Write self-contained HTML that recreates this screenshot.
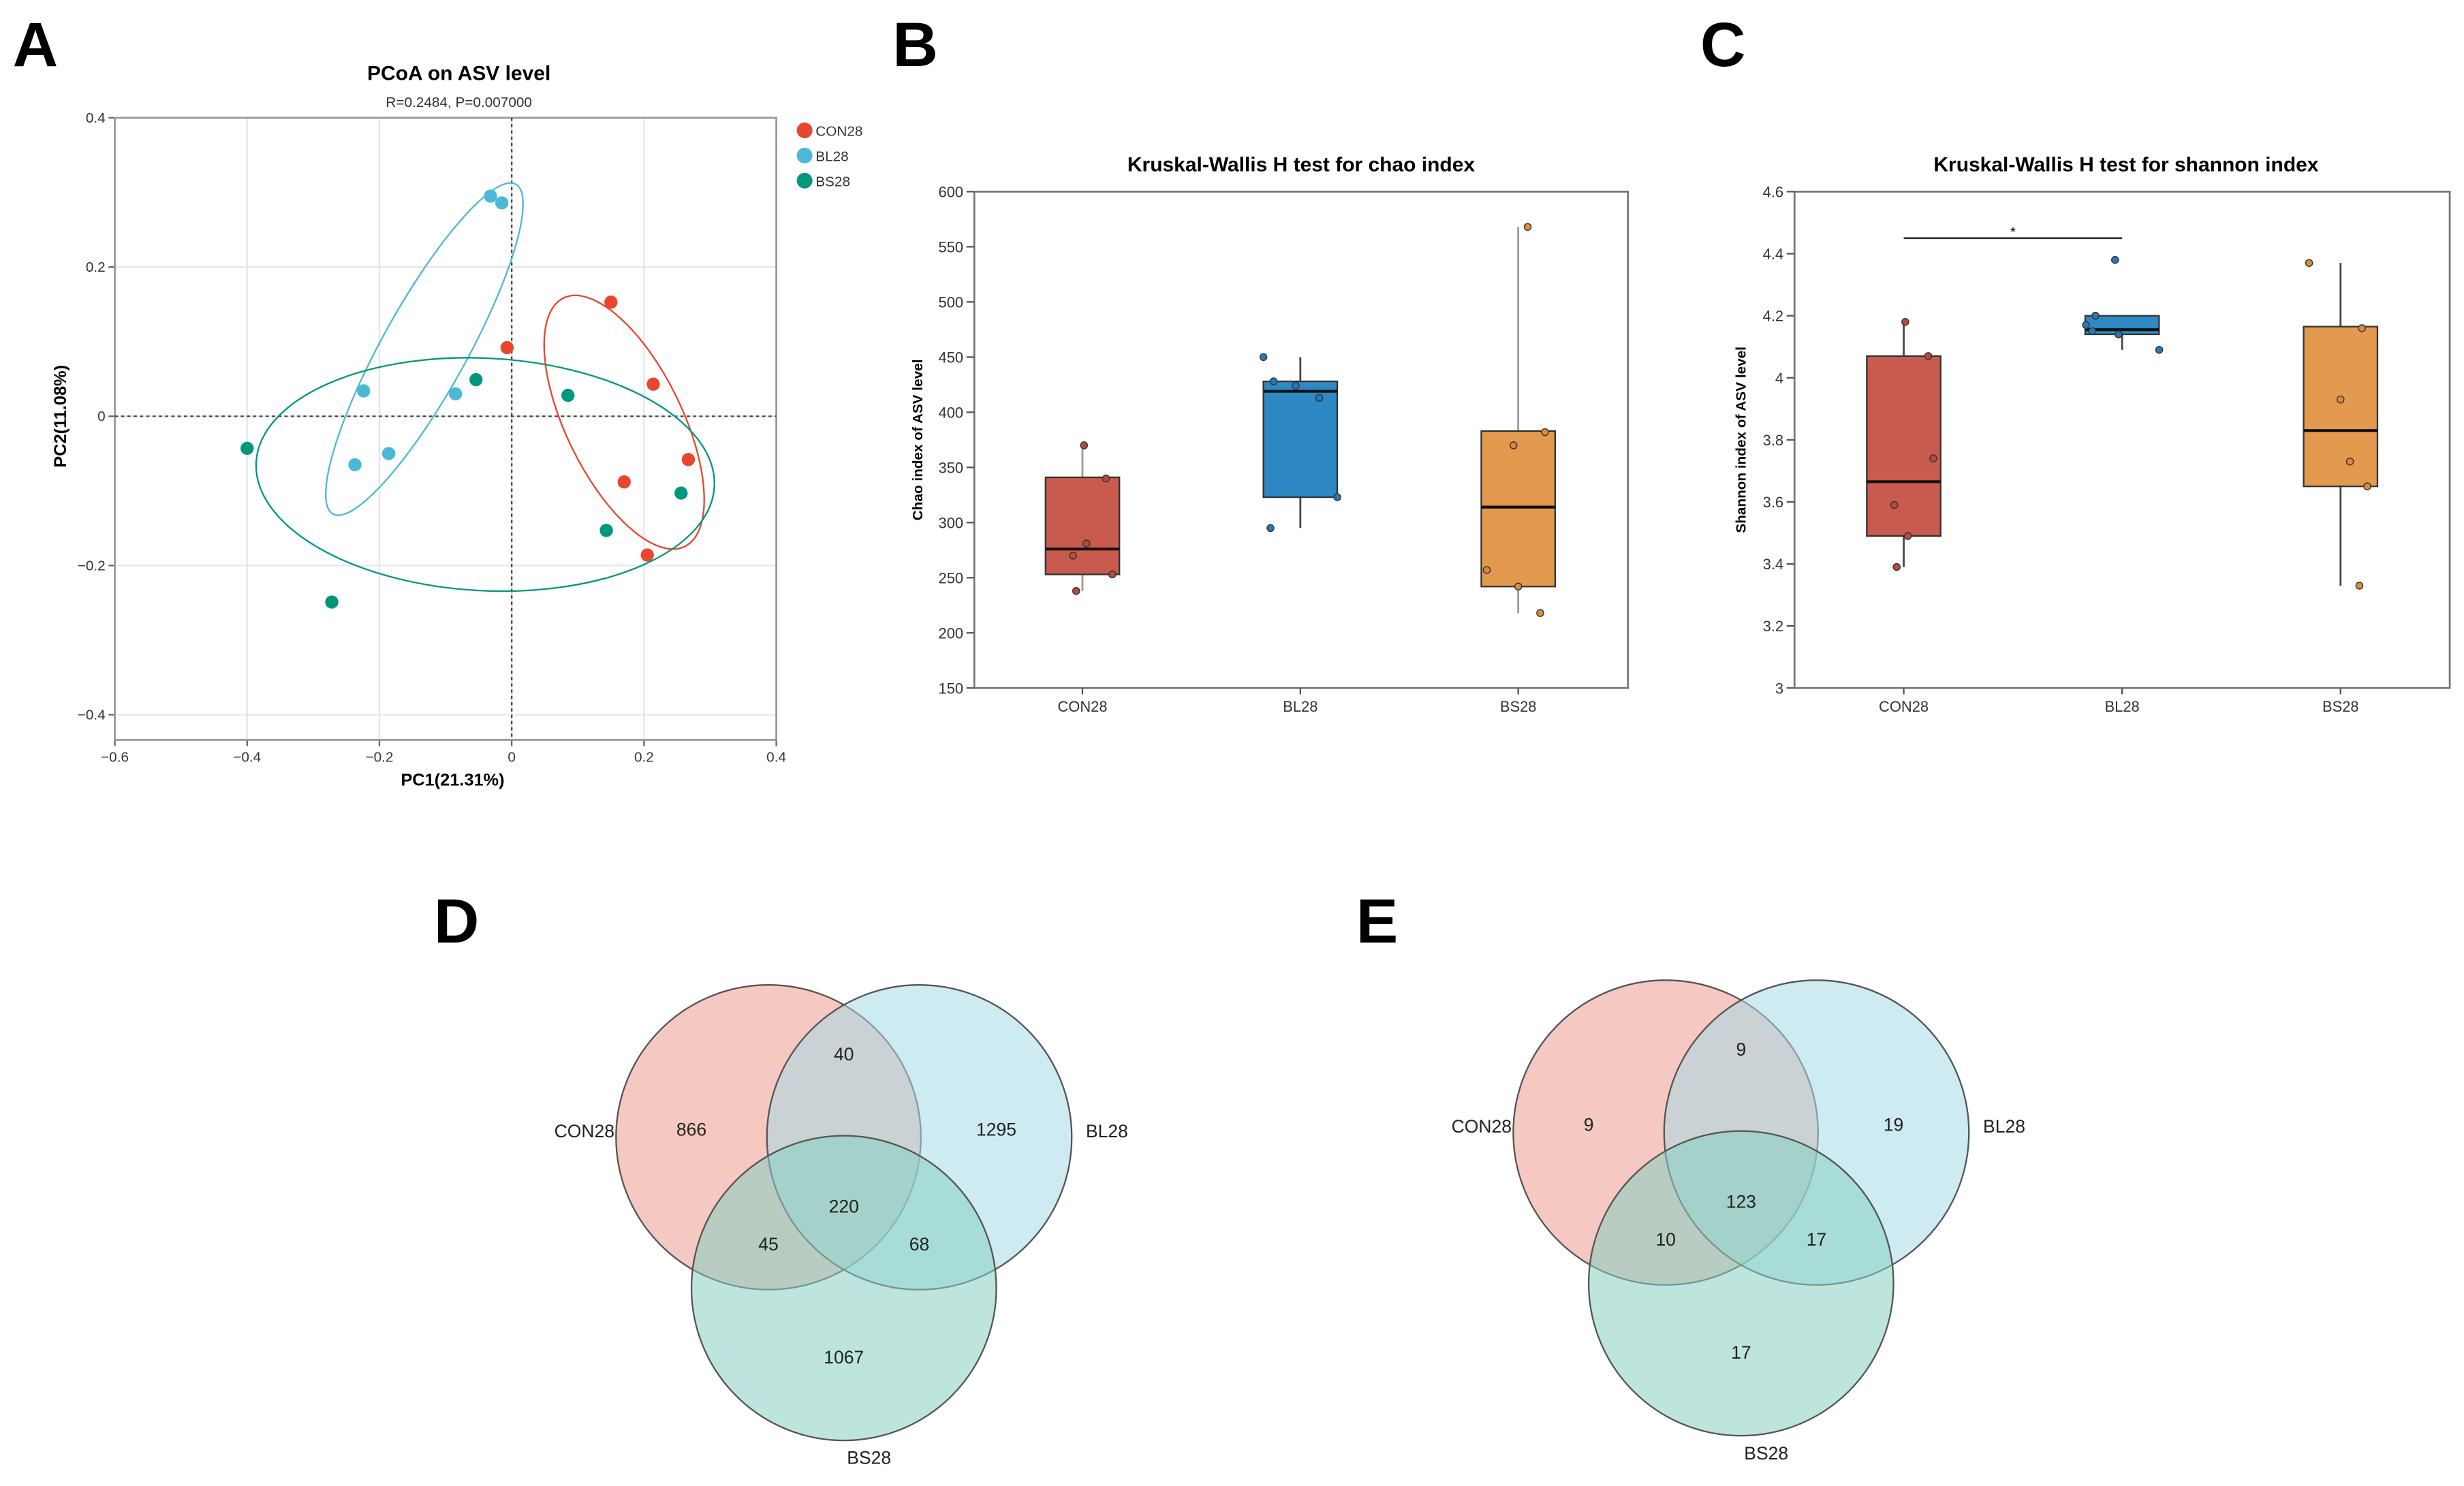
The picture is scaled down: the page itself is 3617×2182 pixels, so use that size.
<!DOCTYPE html>
<html><head><meta charset="utf-8"><style>
html,body{margin:0;padding:0;background:#fff}
svg{display:block;font-family:"Liberation Sans",Arial,sans-serif}
</style></head><body>
<svg id="fig" xmlns="http://www.w3.org/2000/svg" width="3617" height="2182" viewBox="0 0 1568 946">
<rect width="1568" height="946" fill="#fff"/>
<g font-weight="bold" font-size="40" fill="#000">
<text x="8" y="42">A</text>
<text x="568" y="42">B</text>
<text x="1082" y="42">C</text>
<text x="276" y="600">D</text>
<text x="863" y="600">E</text>
</g>
<g id="pA"></g>
<g id="pB"></g>
<g id="pC"></g>
<g id="pD"></g>
<g id="pE"></g>
</svg>
<script>
const NS="http://www.w3.org/2000/svg";
function mk(p,t,a,txt){const e=document.createElementNS(NS,t);for(const k in a)e.setAttribute(k,a[k]);if(txt!==undefined)e.textContent=txt;p.appendChild(e);return e;}

// ---------- Panel A data ----------
const pcoaGroups=["CON28","BL28","BS28"];
const pcoaColors=["#e8462e","#4cb8d8","#00977c"];
const con28X=[0.150,-0.007,0.214,0.267,0.170,0.205];
const con28Y=[0.153,0.092,0.043,-0.058,-0.088,-0.186];
const bl28X=[-0.032,-0.015,-0.224,-0.085,-0.186,-0.237];
const bl28Y=[0.295,0.286,0.034,0.030,-0.050,-0.065];
const bs28X=[-0.054,0.085,-0.400,0.256,0.143,-0.272];
const bs28Y=[0.049,0.028,-0.043,-0.103,-0.153,-0.249];
const pcoaTicks=[-0.6,-0.4,-0.2,0,0.2,0.4];
const pcoaYTicks=[0.4,0.2,0,-0.2,-0.4];
const ellCX=[0.170,-0.132,-0.040];
const ellCY=[-0.008,0.090,-0.078];
const ellRX=[88,120,146];
const ellRY=[37,27,74];
const ellAng=[64,-61,3];

(function(){
const g=document.getElementById('pA');
const X=v=>73+(v+0.6)/1.0*421, Y=v=>75+(0.4-v)/0.8*380;
mk(g,'text',{x:292,y:51,'text-anchor':'middle','font-size':13,'font-weight':'bold',},'PCoA on ASV level');
mk(g,'text',{x:292,y:68,'text-anchor':'middle','font-size':9,fill:'#333',},'R=0.2484, P=0.007000');
pcoaTicks.forEach(t=>{if(t>-0.6&&t<0.4)mk(g,'line',{x1:X(t),x2:X(t),y1:75,y2:471,stroke:'#e6e6e6'});
 mk(g,'line',{x1:X(t),x2:X(t),y1:471,y2:475,stroke:'#666'});
 const l=mk(g,'text',{x:X(t),y:485,'text-anchor':'middle','font-size':9,fill:'#333'},t===0?'0':(t<0?'\u2212':'')+Math.abs(t).toFixed(1));
 
 });
pcoaYTicks.forEach(t=>{mk(g,'line',{x1:73,x2:494,y1:Y(t),y2:Y(t),stroke:'#e6e6e6'});
 mk(g,'line',{x1:69,x2:73,y1:Y(t),y2:Y(t),stroke:'#666'});
 const l=mk(g,'text',{x:67,y:Y(t)+3,'text-anchor':'end','font-size':9,fill:'#333'},t===0?'0':(t<0?'\u2212':'')+Math.abs(t).toFixed(1));
 
 });
mk(g,'rect',{x:73,y:75,width:421,height:396,fill:'none',stroke:'#999','stroke-width':1.2,});
mk(g,'line',{x1:X(0),x2:X(0),y1:75,y2:471,stroke:'#444','stroke-dasharray':'2,2',});
mk(g,'line',{x1:73,x2:494,y1:Y(0),y2:Y(0),stroke:'#444','stroke-dasharray':'2,2',});
mk(g,'text',{x:288,y:500,'text-anchor':'middle','font-size':11,'font-weight':'bold',},'PC1(21.31%)');
mk(g,'text',{x:0,y:0,'text-anchor':'middle','font-size':11,'font-weight':'bold',transform:'translate(42,265) rotate(-90)',},'PC2(11.08%)');
const xs=[con28X,bl28X,bs28X], ys=[con28Y,bl28Y,bs28Y];
for(let i=0;i<3;i++){
 const e=mk(g,'ellipse',{cx:0,cy:0,rx:ellRX[i],ry:ellRY[i],fill:'none',stroke:pcoaColors[i],'stroke-width':1,transform:`translate(${X(ellCX[i])},${Y(ellCY[i])}) rotate(${ellAng[i]})`});
 
 
 xs[i].forEach((v,j)=>{const c=mk(g,'circle',{cx:X(v),cy:Y(ys[i][j]),r:4.2,fill:pcoaColors[i]});
  
  });
 const lc=mk(g,'circle',{cx:512,cy:83+i*16,r:5,fill:pcoaColors[i]});
 
 
 const lt=mk(g,'text',{x:519,y:86.5+i*16,'font-size':9,fill:'#333'},pcoaGroups[i]);
 
 
}
})();

// ---------- Box plots ----------
const boxCats=["CON28","BL28","BS28"];
const boxFill=["#c85a4e","#2e88c4","#e39a4f"];
const boxDot=["#b64a3f","#2479b8","#d98b3e"];
const chaoQ1=[253,323,242], chaoQ3=[341,428,383], chaoMed=[276,419,314], chaoLo=[238,295,218], chaoHi=[370,450,568];
const chaoPts=[[370,340,281,270,253,238],[450,428,424,413,323,295],[568,382,370,257,242,218]];
const chaoJit=[[1,15,2.5,-6,19,-4],[-23.5,-17,-3,12,23.5,-19],[6,17,-3,-20,0,14]];
const chaoTicks=[150,200,250,300,350,400,450,500,550,600];
const shQ1=[3.49,4.14,3.65], shQ3=[4.07,4.20,4.165], shMed=[3.665,4.155,3.83], shLo=[3.39,4.09,3.33], shHi=[4.18,4.20,4.37];
const shPts=[[4.18,4.07,3.74,3.59,3.49,3.39],[4.38,4.20,4.17,4.15,4.14,4.09],[4.37,4.16,3.93,3.73,3.65,3.33]];
const shJit=[[1,15.6,18.8,-6,2.6,-4.5],[-4.5,-17,-23,-19,-2.3,23.6],[-20,13.6,0,6,17,12]];
const shTicks=[3,3.2,3.4,3.6,3.8,4,4.2,4.4,4.6];

function boxPlot(id,o){
 const g=document.getElementById(id);
 const L=o.L,R=o.R,T=122,B=438;
 const Y=v=>B-(v-o.min)/(o.max-o.min)*(B-T);
 const step=(R-L)/3, X=i=>L+step*(i+0.5)+o.dx;
 mk(g,'text',{x:o.tx,y:109,'text-anchor':'middle','font-size':13,'font-weight':'bold',},o.title);
 mk(g,'rect',{x:L,y:T,width:R-L,height:B-T,fill:'none',stroke:'#777','stroke-width':1.2,});
 o.ticks.forEach(t=>{mk(g,'line',{x1:L-5,x2:L,y1:Y(t),y2:Y(t),stroke:'#555'});
  const l=mk(g,'text',{x:L-7,y:Y(t)+3.5,'text-anchor':'end','font-size':9.5,fill:'#333'},String(t));
  
  });
 mk(g,'text',{x:0,y:0,'text-anchor':'middle','font-size':9,'font-weight':'bold',transform:`translate(${o.ylx},${(T+B)/2}) rotate(-90)`,},o.ylab);
 boxCats.forEach((c,i)=>{
  const x=X(i),w=o.bw;
  mk(g,'line',{x1:x,x2:x,y1:B,y2:B+4,stroke:'#555'});
  const l=mk(g,'text',{x:x,y:B+15,'text-anchor':'middle','font-size':9.5,fill:'#333'},c);
  
  
  const wk=mk(g,'line',{x1:x,x2:x,y1:Y(o.hi[i]),y2:Y(o.lo[i]),stroke:i===1||id==='pC'?'#444':'#999','stroke-width':1.2});
  
  
  const bx=mk(g,'rect',{x:x-w/2,y:Y(o.q3[i]),width:w,height:Y(o.q1[i])-Y(o.q3[i]),fill:boxFill[i],stroke:'#333','stroke-width':1});
  
  
  const md=mk(g,'line',{x1:x-w/2,x2:x+w/2,y1:Y(o.med[i]),y2:Y(o.med[i]),stroke:'#111','stroke-width':1.8});
  
  
  o.pts[i].forEach((v,j)=>{const p=mk(g,'circle',{cx:x+o.jit[i][j],cy:Y(v),r:2.2,fill:boxDot[i],stroke:'#333','stroke-width':0.6});
   
   });
 });
 if(o.sig){const y=Y(4.45);
  mk(g,'line',{x1:X(0),x2:X(1),y1:y,y2:y,stroke:'#333','stroke-width':1.2,});
  mk(g,'text',{x:(X(0)+X(1))/2,y:y-1,'text-anchor':'middle','font-size':9,},'*');}
}
boxPlot('pB',{L:620,R:1036,dx:-0.5,tx:828,min:150,max:600,bw:47,ticks:chaoTicks,q1:chaoQ1,q3:chaoQ3,med:chaoMed,lo:chaoLo,hi:chaoHi,pts:chaoPts,jit:chaoJit,title:'Kruskal-Wallis H test for chao index',ylab:'Chao index of ASV level',ylx:587});
boxPlot('pC',{L:1142,R:1559,dx:0,tx:1353,min:3,max:4.6,bw:47,ticks:shTicks,q1:shQ1,q3:shQ3,med:shMed,lo:shLo,hi:shHi,pts:shPts,jit:shJit,title:'Kruskal-Wallis H test for shannon index',ylab:'Shannon index of ASV level',ylx:1111,sig:true});

// ---------- Venn ----------
const vennSets=["CON28","BL28","BS28"];
const vennD=[866,40,1295,220,45,68,1067];
const vennE=[9,9,19,123,10,17,17];
function venn(id,cx,cy,vals){
 const g=document.getElementById(id), r=97, d=48;
 const C=[[cx-d,cy],[cx+d,cy],[cx,cy+96]];
 const fills=["#ee9a90","#a6dbe6","#86d0c2"];
 C.forEach((c,i)=>{const e=mk(g,'circle',{cx:c[0],cy:c[1],r:r,fill:fills[i],'fill-opacity':0.55,stroke:'#555','stroke-width':1});
  
  });
 const pos=[[cx-97,cy-5],[cx,cy-53],[cx+97,cy-5],[cx,cy+44],[cx-48,cy+68],[cx+48,cy+68],[cx,cy+140]];
 vals.forEach((v,i)=>{const t=mk(g,'text',{x:pos[i][0],y:pos[i][1]+4,'text-anchor':'middle','font-size':11.5,fill:'#222'},String(v));
  
  });
 const l1=mk(g,'text',{x:cx-d-r-1,y:cy,'text-anchor':'end','font-size':11.5,fill:'#222'},'CON28');
 
 const l2=mk(g,'text',{x:cx+d+r+9,y:cy,'font-size':11.5,fill:'#222'},'BL28');
 
 const l3=mk(g,'text',{x:cx+16,y:cy+r+96+15,'text-anchor':'middle','font-size':11.5,fill:'#222'},'BS28');
 
}
venn('pD',537,724,vennD);
venn('pE',1108,721,vennE);
</script>
</body></html>
